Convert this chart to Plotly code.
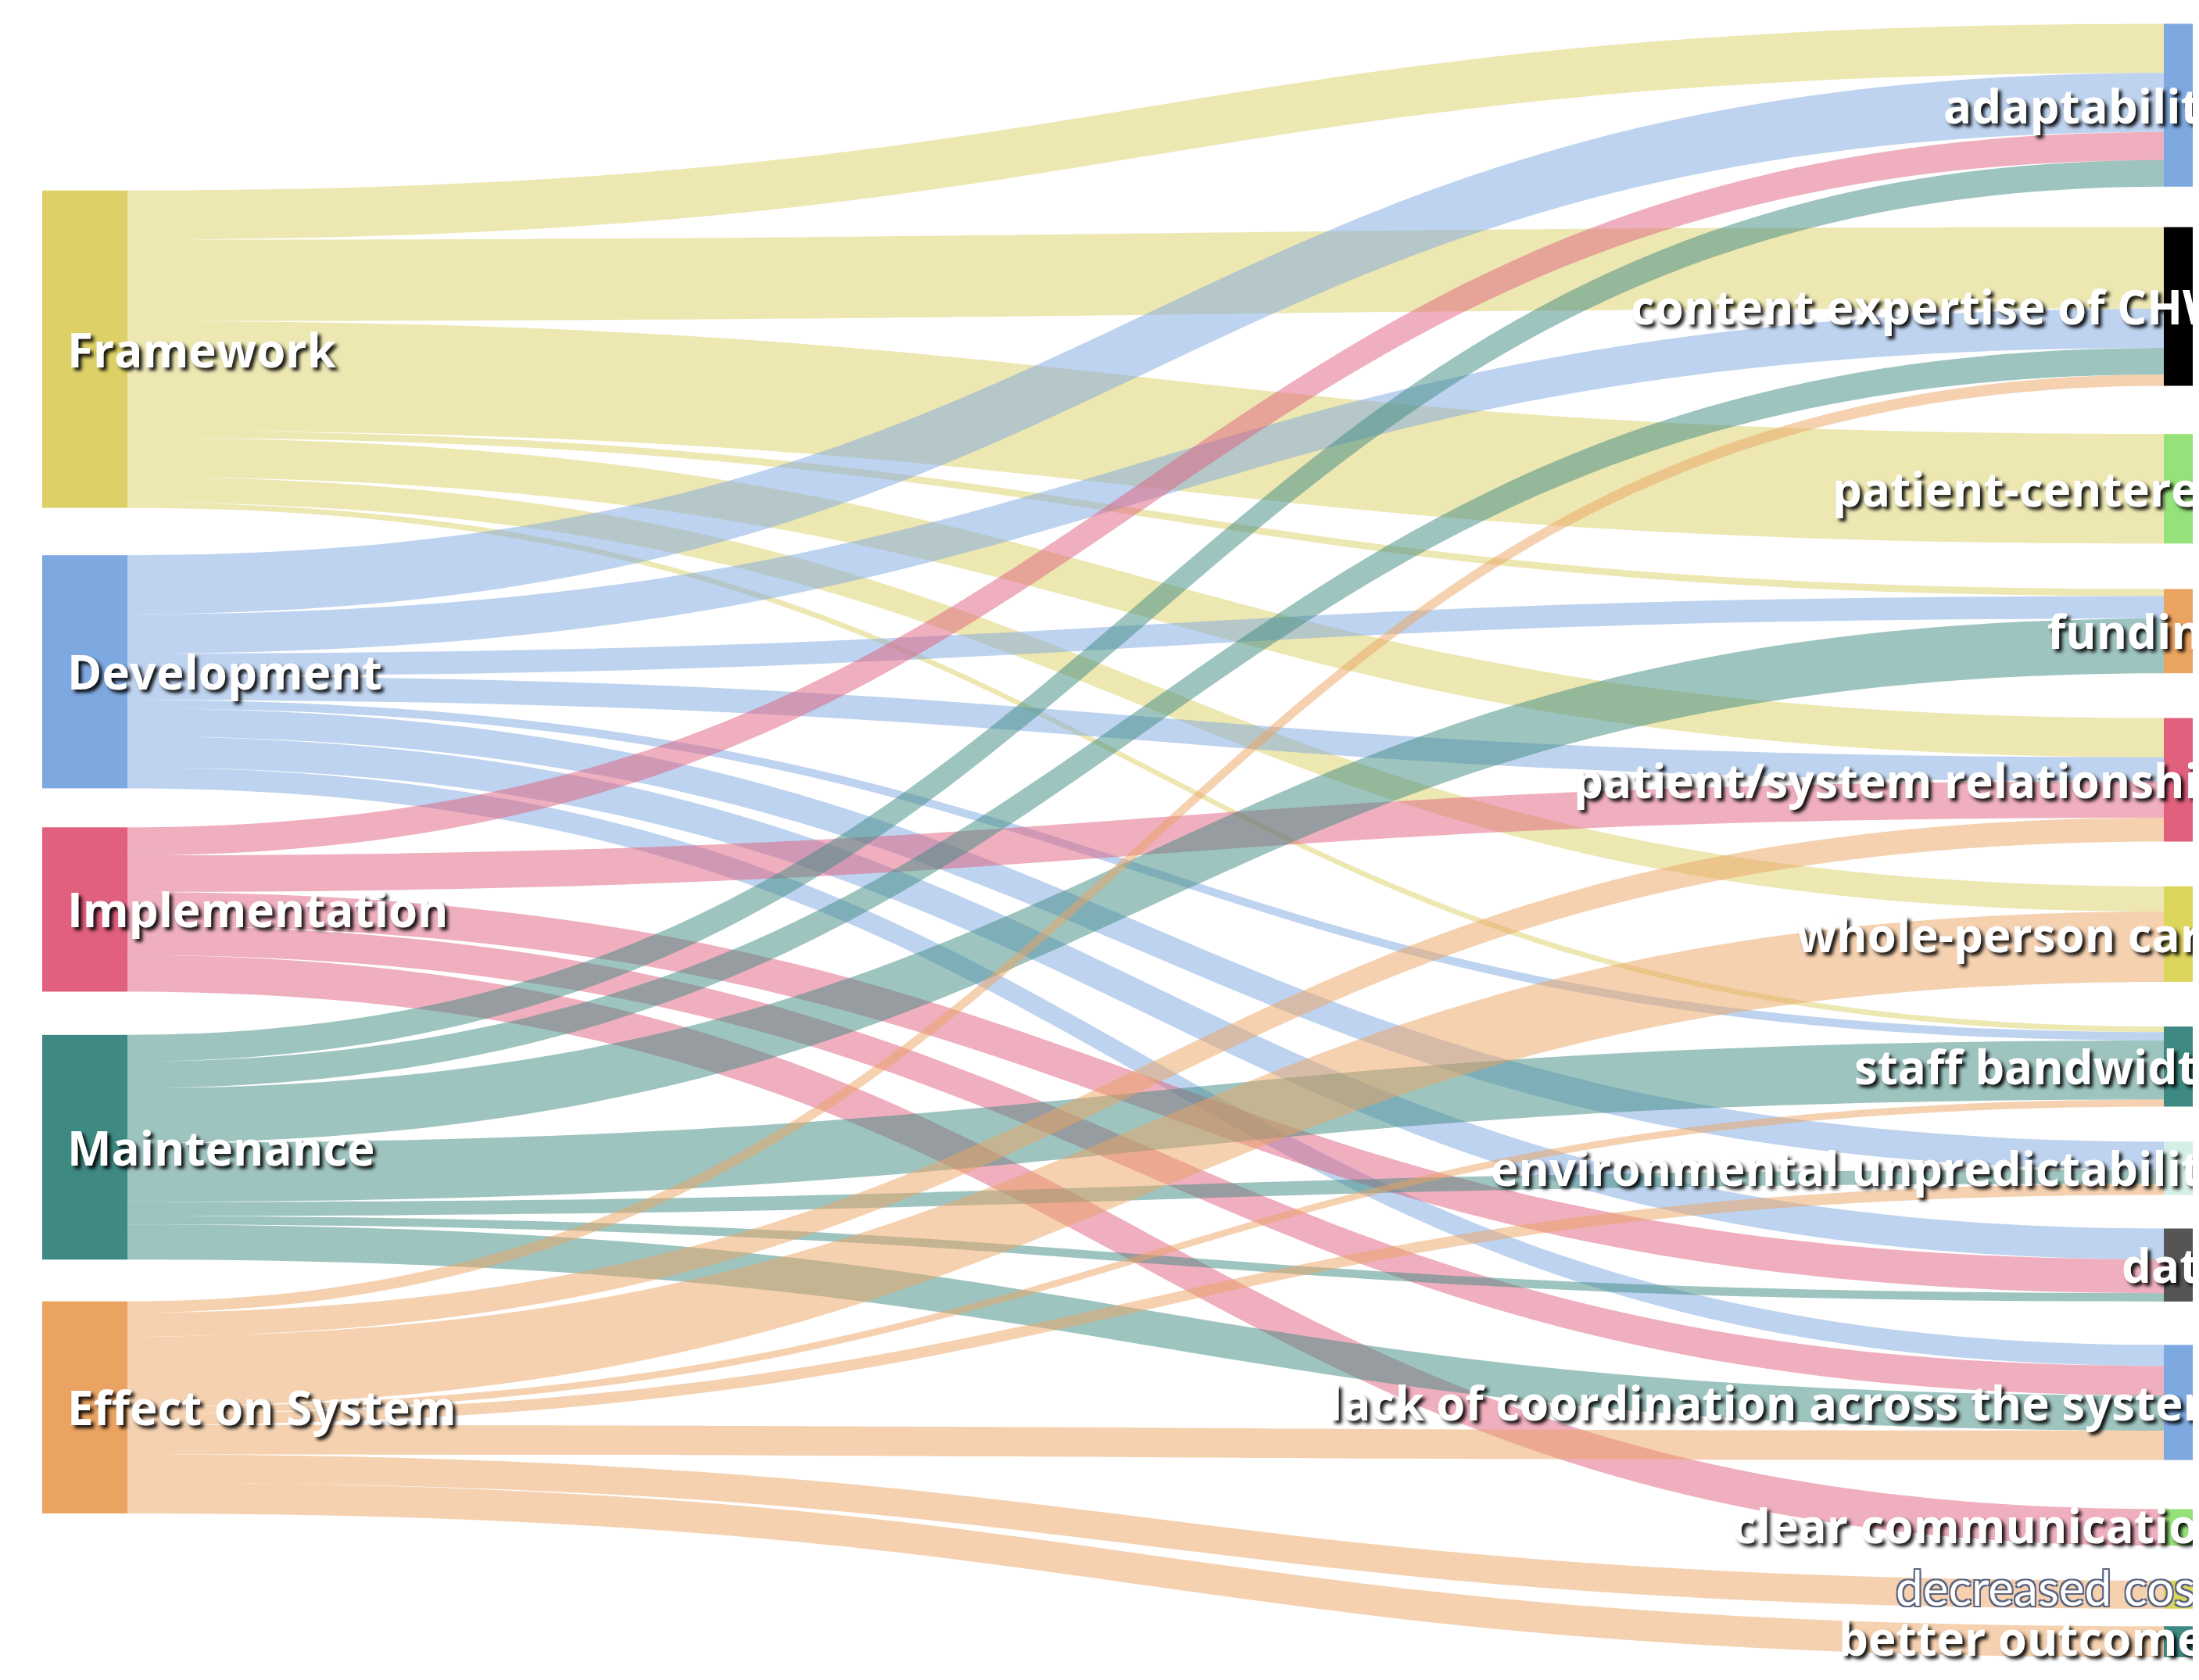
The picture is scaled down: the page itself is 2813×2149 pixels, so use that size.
import plotly.graph_objects as go

# ---------------- data ----------------
source_nodes = ["Framework", "Development", "Implementation", "Maintenance", "Effect on System"]
target_nodes = ["adaptability", "content expertise of CHW", "patient-centered", "funding",
                "patient/system relationship", "whole-person care", "staff bandwidth",
                "environmental unpredictability", "data",
                "lack of coordination across the system", "clear communication",
                "decreased cost", "better outcomes"]

link_from = (["Framework"] * 7 + ["Development"] * 8 + ["Implementation"] * 5
             + ["Maintenance"] * 7 + ["Effect on System"] * 8)
link_to = [
    # Framework
    "adaptability", "content expertise of CHW", "patient-centered", "funding",
    "patient/system relationship", "whole-person care", "staff bandwidth",
    # Development
    "adaptability", "content expertise of CHW", "funding", "patient/system relationship",
    "staff bandwidth", "environmental unpredictability", "data",
    "lack of coordination across the system",
    # Implementation
    "adaptability", "patient/system relationship", "data",
    "lack of coordination across the system", "clear communication",
    # Maintenance
    "adaptability", "content expertise of CHW", "funding", "staff bandwidth",
    "environmental unpredictability", "data", "lack of coordination across the system",
    # Effect on System
    "content expertise of CHW", "patient/system relationship", "whole-person care",
    "staff bandwidth", "environmental unpredictability",
    "lack of coordination across the system", "decreased cost", "better outcomes",
]
link_value = [35, 58, 78, 5, 28, 18, 4,
              42, 28, 16, 17, 6, 20, 22, 15,
              20, 26, 24, 21, 26,
              19, 19, 39, 42, 10, 6, 25,
              8, 17, 50, 5, 8, 21, 20, 22]

# ---------------- style / layout ----------------
source_colors = ["#dcd066", "#7ea8e0", "#e0607e", "#3e8982", "#eba361"]
target_colors = ["#7ea8e0", "#000000", "#96e27a", "#eba361", "#e0607e", "#dcd55c",
                 "#3e8982", "#d4efe6", "#555555", "#7ea8e0", "#96e27a", "#dcd55c", "#3e8982"]
link_alpha = 0.5

PAGE_OFF = 8          # default body margin of the page
FIG_W, FIG_H = 2797, 2133
NODE_THICK = 109
NODE_PAD = 55

left_cx_page = 108.5
right_cx_page = 2822.5
left_cy_page = [446.7, 859.3, 1163.4, 1467.5, 1800.3]
right_cy_page = [134.6, 392.0, 625.2, 807.3, 997.5, 1194.8, 1364.3, 1494.4,
                 1618.2, 1794.0, 1953.7, 2039.8, 2100.0]
right_label_cy_page = [134.6, 392.0, 625.2, 807.3, 997.5, 1194.8, 1364.3, 1494.4,
                       1618.2, 1794.0, 1951.0, 2030.0, 2095.0]

left_label_x_page = 84
right_label_end_page = 2853
outline_label_end_page = 2832

labels = source_nodes + target_nodes
idx = {n: i for i, n in enumerate(labels)}


def hex_rgba(h, a):
    h = h.lstrip("#")
    r, g, b = int(h[0:2], 16), int(h[2:4], 16), int(h[4:6], 16)
    return f"rgba({r},{g},{b},{a})"


node_x = ([(left_cx_page - PAGE_OFF) / FIG_W] * len(source_nodes)
          + [(right_cx_page - PAGE_OFF) / FIG_W] * len(target_nodes))
node_y = [(y - PAGE_OFF) / FIG_H for y in left_cy_page + right_cy_page]

link_colors = [hex_rgba(source_colors[idx[s]], link_alpha) for s in link_from]

fig = go.Figure(go.Sankey(
    arrangement="fixed",
    domain=dict(x=[0, 1], y=[0, 1]),
    node=dict(
        label=["" for _ in labels],
        customdata=labels,
        hovertemplate="%{customdata}<extra></extra>",
        color=source_colors + target_colors,
        thickness=NODE_THICK,
        pad=NODE_PAD,
        line=dict(width=0),
        x=node_x,
        y=node_y,
    ),
    link=dict(
        source=[idx[s] for s in link_from],
        target=[idx[t] for t in link_to],
        value=link_value,
        color=link_colors,
        line=dict(width=0),
    ),
))

label_font = dict(family="Open Sans, DejaVu Sans, sans-serif", size=60, color="white",
                  weight="bold", shadow="4px 4px 4px rgba(0,0,0,0.9)")
outline_font = dict(family="Lato, Open Sans, sans-serif", size=62, color="white",
                    shadow="-2px -2px 0 #5a6480, 2px -2px 0 #5a6480, -2px 2px 0 #5a6480, 2px 2px 0 #5a6480")

annotations = []
for name, cy in zip(source_nodes, left_cy_page):
    annotations.append(dict(
        text=name, xref="paper", yref="paper",
        x=(left_label_x_page - PAGE_OFF) / FIG_W, xanchor="left",
        y=1 - (cy - PAGE_OFF) / FIG_H, yanchor="middle",
        showarrow=False, font=label_font))
for name, cy in zip(target_nodes, right_label_cy_page):
    outlined = name == "decreased cost"
    end = outline_label_end_page if outlined else right_label_end_page
    annotations.append(dict(
        text=name, xref="paper", yref="paper",
        x=(end - PAGE_OFF) / FIG_W, xanchor="right",
        y=1 - (cy - PAGE_OFF) / FIG_H, yanchor="middle",
        showarrow=False,
        font=outline_font if outlined else label_font))

fig.update_layout(
    width=FIG_W, height=FIG_H,
    margin=dict(l=0, r=0, t=0, b=0),
    paper_bgcolor="white", plot_bgcolor="white",
    annotations=annotations,
    showlegend=False,
)

fig.write_html("out.html")
